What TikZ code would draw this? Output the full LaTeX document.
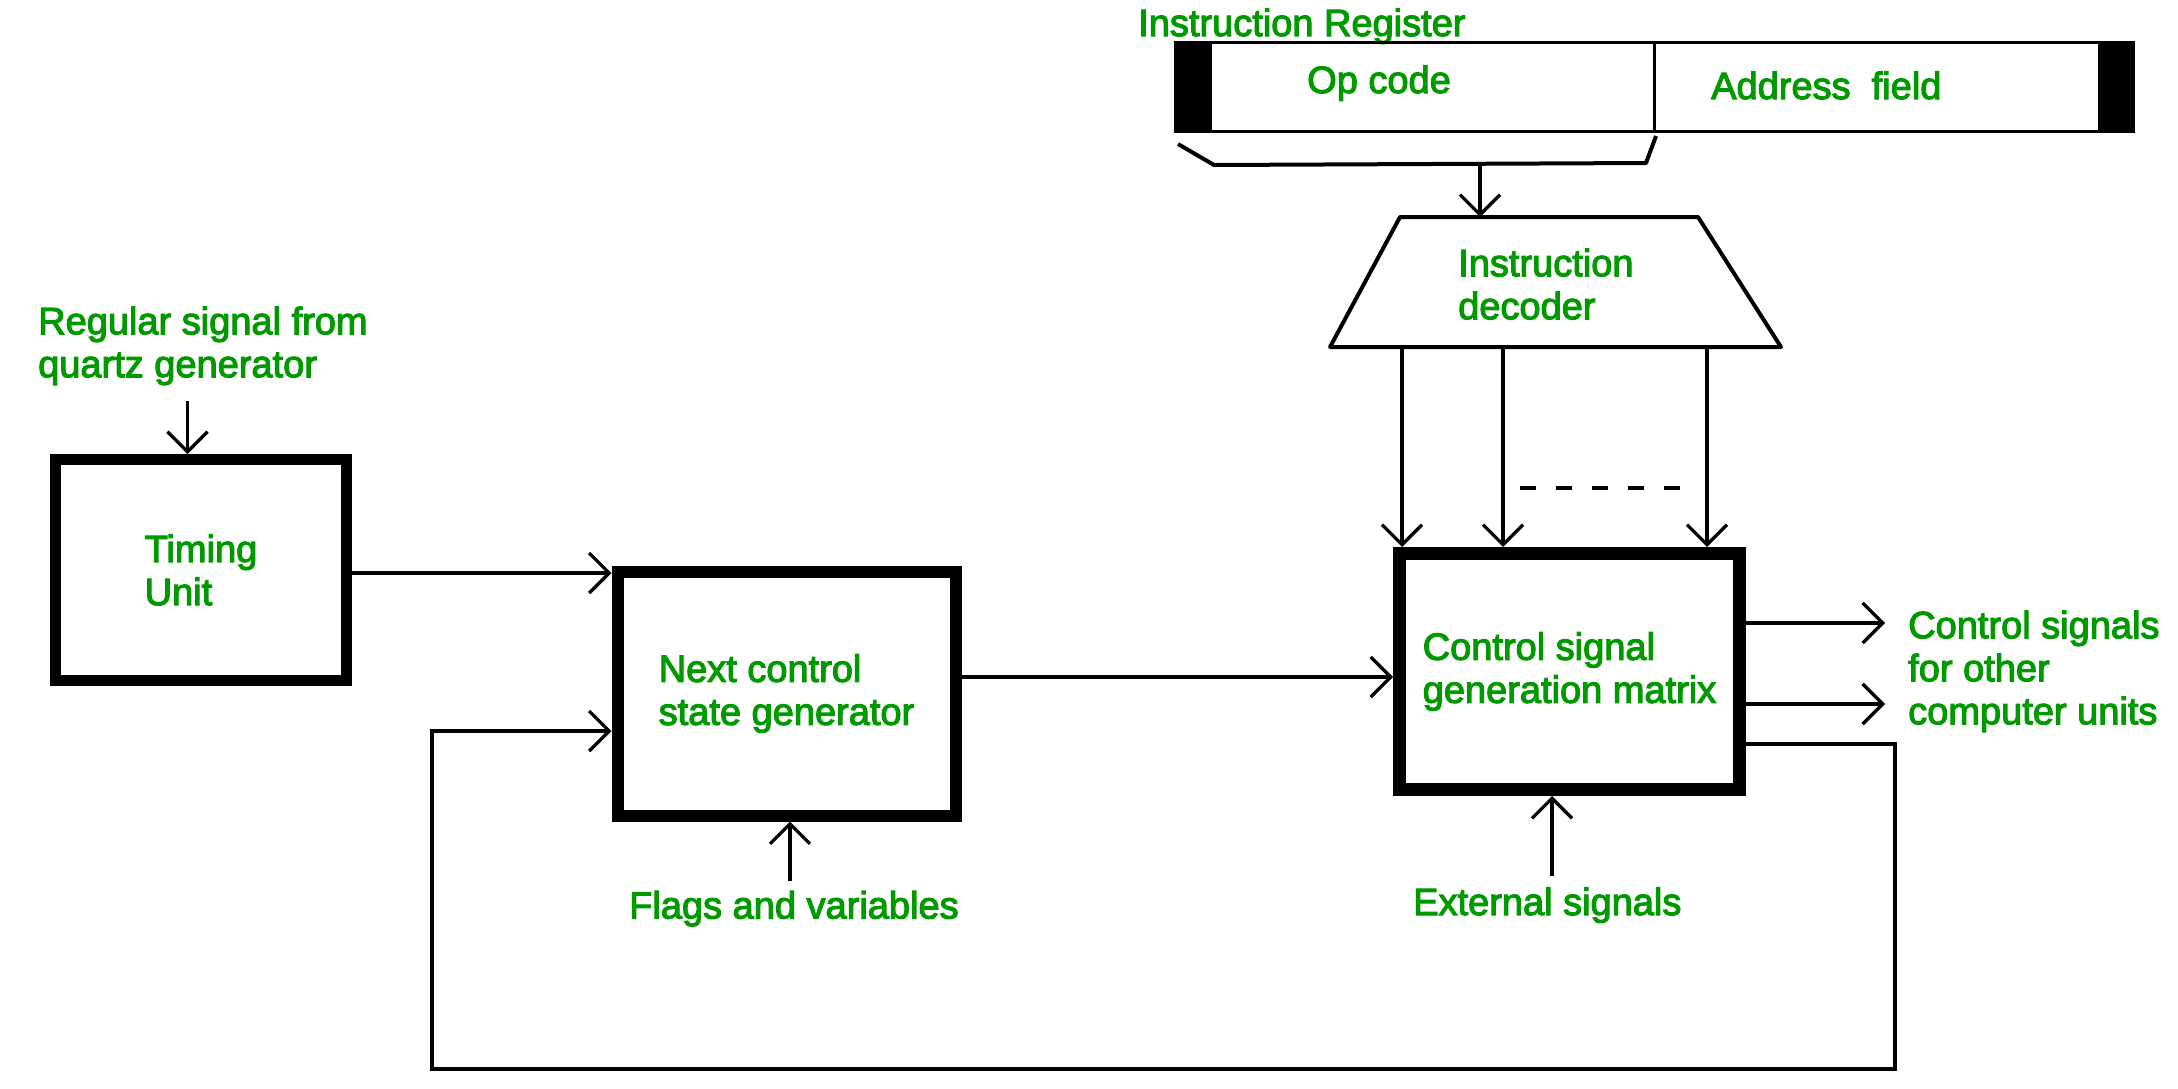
\documentclass[tikz,border=0pt]{standalone}
\usepackage{fontspec}
\setmainfont{Liberation Sans}[FakeBold=3]
\usetikzlibrary{arrows.meta}
\definecolor{gfg}{RGB}{0,153,0}
\begin{document}
\begin{tikzpicture}[x=1pt,y={(0pt,-1pt)},
  txt/.style={text=gfg, font=\fontsize{38}{43}\selectfont, inner sep=0pt, align=left},
  wire/.style={line width=3.3pt},
  arr/.style={wire, -{Straight Barb[length=20pt,width=40pt]}},
  bigbox/.style={draw, line width=#1, inner sep=0pt, text=gfg, font=\fontsize{38}{43}\selectfont, align=left},
  trapline/.style={line width=4pt, line join=round},
]
\useasboundingbox (0,0) rectangle (2178,1088);

% ---------- Instruction register ----------
\node[txt, anchor=base west] (irlabel) at (1138,36) {Instruction Register};
\node[draw, line width=3.3pt, minimum width=958pt, minimum height=89pt, inner sep=0pt] (ir) at (1654.5,87) {};
\fill (ir.north west) rectangle ++(38,92);
\fill (ir.north east) rectangle ++(-37,92);
\draw[wire] (ir.north) -- (ir.south);
\node[txt, anchor=base west] (opc) at (1307,93) {Op code};
\node[txt, anchor=base west] (addr) at (1711,99) {Address\ \ field};

% brace under op code
\coordinate (b1) at (1178,144);
\coordinate (b2) at (1214,165);
\coordinate (bm) at (1480,164);
\coordinate (b3) at (1646,163);
\coordinate (b4) at (1656,136);
\draw[trapline] (b1) -- (b2) -- (b3) -- (b4);

% ---------- Instruction decoder ----------
\coordinate (dtl) at (1400,217);
\coordinate (dtr) at (1698,217);
\coordinate (dbr) at (1781,347);
\coordinate (dbl) at (1330,347);
\draw[trapline] (dtl) -- (dtr) -- (dbr) -- (dbl) -- cycle;
\node[txt, anchor=north west] (dec) at (1458,245) {\rule{0pt}{31pt}Instruction\\decoder};
\draw[arr] (bm) -- (bm |- dtl);

% ---------- Boxes ----------
\node[bigbox=11pt, minimum width=291pt, minimum height=221pt] (timing) at (201,570) {Timing\\Unit};
\node[bigbox=12pt, minimum width=338pt, minimum height=244pt] (ncsg) at (786.5,693.5) {Next control\\state generator};
\node[bigbox=13pt, minimum width=340pt, minimum height=236pt] (csgm) at (1569.5,671.5) {Control signal\\generation matrix};

% decoder outputs
\coordinate (d1) at (1402,347);
\coordinate (d2) at (1503,347);
\coordinate (d3) at (1707,347);
\draw[arr] (d1) -- (d1 |- csgm.north);
\draw[arr] (d2) -- (d2 |- csgm.north);
\draw[arr] (d3) -- (d3 |- csgm.north);
\coordinate (ds) at (1520,488);
\coordinate (de) at (1684,488);
\draw[wire, dash pattern=on 16pt off 20pt] (ds) -- (de);

% quartz input
\node[txt, anchor=north west] (quartz) at (38,303) {\rule{0pt}{31pt}Regular signal from\\quartz generator};
\coordinate (q) at (187.5,401);
\draw[arr] (q) -- (q |- timing.north);

% main flow
\draw[arr] (timing.east |- 0,573) -- (ncsg.west |- 0,573);
\draw[arr] (ncsg.east |- 0,677) -- (csgm.west |- 0,677);

% flags
\node[txt, anchor=base west] (flags) at (629,918.5) {Flags and variables};
\coordinate (fl) at (790,881);
\draw[arr] (fl) -- (fl |- ncsg.south);

% external
\node[txt, anchor=base west] (ext) at (1413,915) {External signals};
\coordinate (ex) at (1552,876);
\draw[arr] (ex) -- (ex |- csgm.south);

% outputs
\coordinate (o1) at (1885,623);
\coordinate (o2) at (1885,704);
\draw[arr] (csgm.east |- o1) -- (o1);
\draw[arr] (csgm.east |- o2) -- (o2);
\node[txt, anchor=north west] (outl) at (1908,607) {\rule{0pt}{31pt}Control signals\\for other\\computer units};

% feedback
\coordinate (f1) at (1895,744);
\coordinate (f2) at (1895,1069);
\coordinate (f3) at (432,1069);
\coordinate (f4) at (432,731);
\draw[arr, line join=miter] (csgm.east |- f1) -- (f1) -- (f2) -- (f3) -- (f4) -- (ncsg.west |- f4);
\end{tikzpicture}
\end{document}
